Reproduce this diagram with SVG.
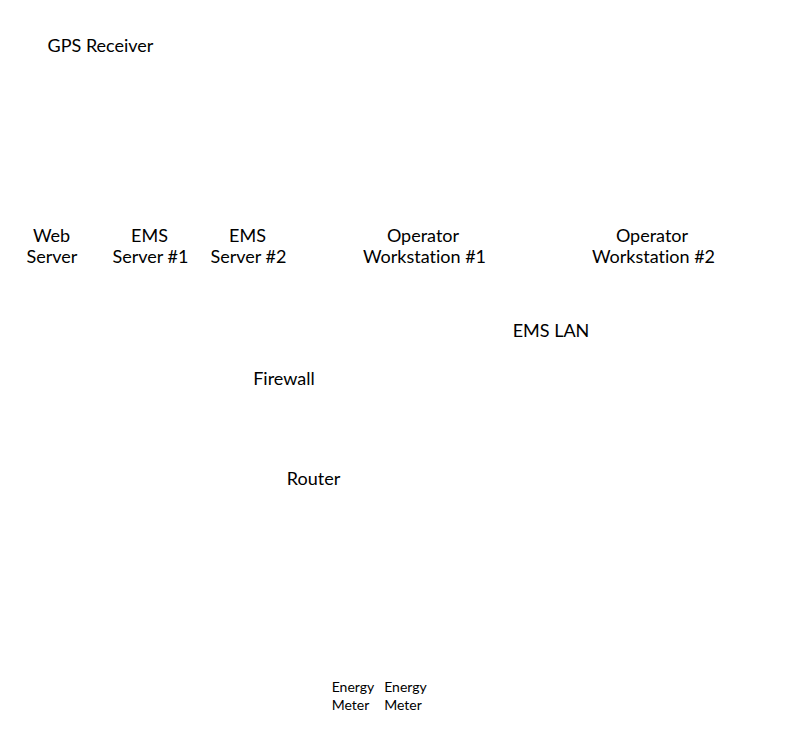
<svg xmlns="http://www.w3.org/2000/svg" width="790" height="729" viewBox="0 0 790 729">
<style>
text{font-family:Lato,"Liberation Sans",sans-serif;fill:#000;text-anchor:middle;font-variant-ligatures:none}
.l{font-size:18px}
.s{font-size:14px}
</style>
<rect width="790" height="729" fill="#fff"/>
<g id="connectors"></g>
<g id="gps"><text class="l" x="100.5" y="51.5">GPS Receiver</text></g>
<g id="web"><text class="l" x="51.5" y="241.5">Web</text><text class="l" x="52" y="263">Server</text></g>
<g id="ems1"><text class="l" x="149.5" y="241.5">EMS</text><text class="l" x="150.5" y="263">Server #1</text></g>
<g id="ems2"><text class="l" x="247.5" y="241.5">EMS</text><text class="l" x="248.5" y="263">Server #2</text></g>
<g id="op1"><text class="l" x="423" y="241.5">Operator</text><text class="l" x="424.5" y="263">Workstation #1</text></g>
<g id="op2"><text class="l" x="652" y="241.5">Operator</text><text class="l" x="653.5" y="263">Workstation #2</text></g>
<g id="lan"><text class="l" x="551" y="337">EMS LAN</text></g>
<g id="firewall"><text class="l" x="284" y="385">Firewall</text></g>
<g id="router"><text class="l" x="313.5" y="485">Router</text></g>
<g id="meter1"><text class="s" x="353" y="692">Energy</text><text class="s" x="350.5" y="709.5">Meter</text></g>
<g id="meter2"><text class="s" x="405.5" y="692">Energy</text><text class="s" x="403" y="709.5">Meter</text></g>
</svg>
